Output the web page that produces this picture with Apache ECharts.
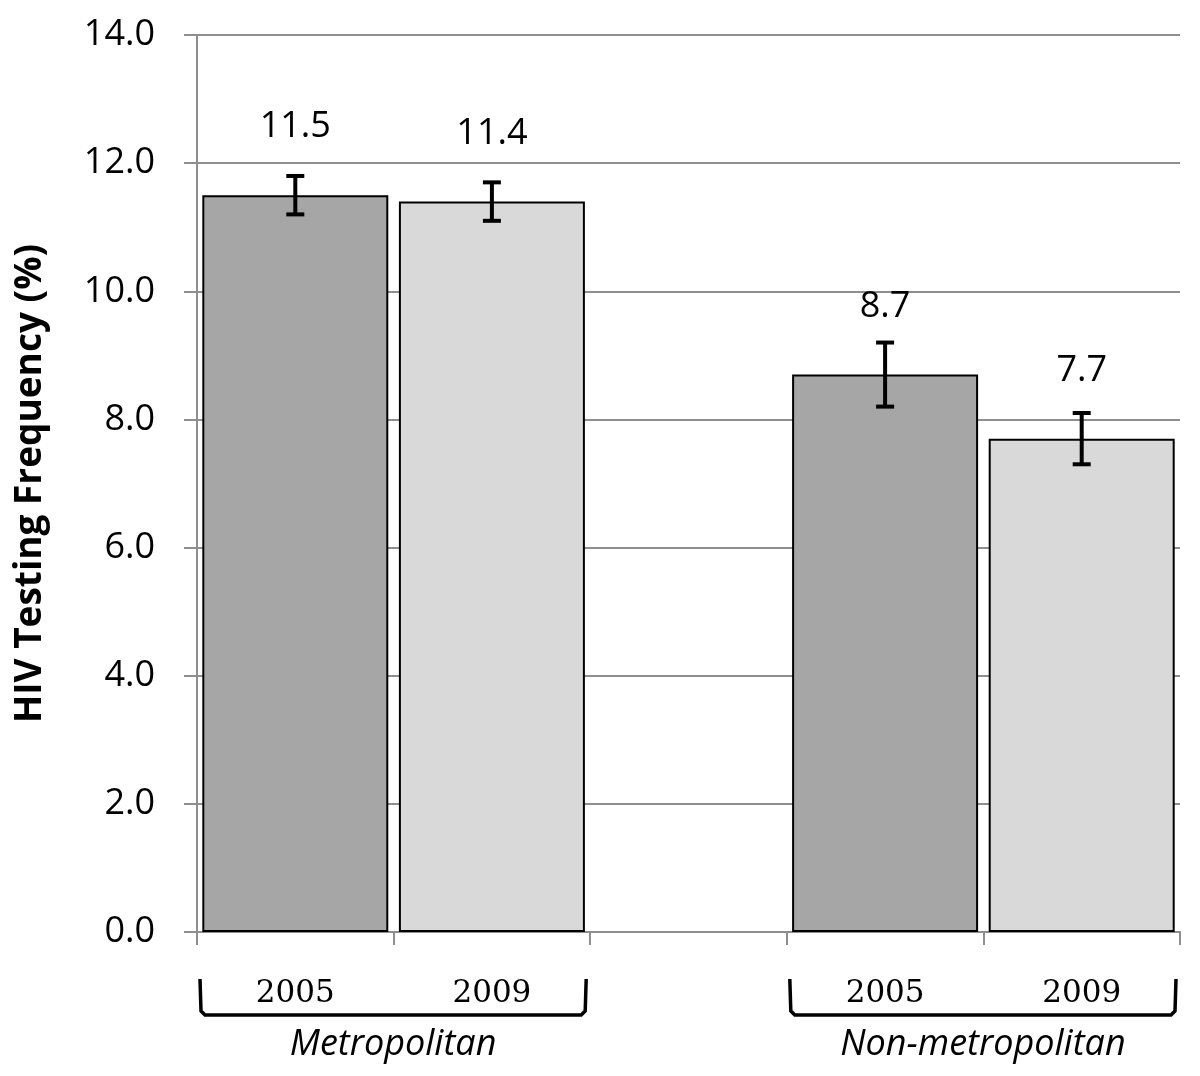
<!DOCTYPE html>
<html>
<head>
<meta charset="utf-8">
<script src="https://cdn.jsdelivr.net/npm/echarts@6/dist/echarts.min.js"></script>
<style>
  html, body { margin: 0; padding: 0; background: #fff; }
  #main { width: 1200px; height: 1076px; }
</style>
</head>
<body>
<div id="main"></div>
<script>
// 数据
var categories = ['2005', '2009', '', '2005', '2009'];
var values = [11.5, 11.4, null, 8.7, 7.7];
var errors = [0.3, 0.3, null, 0.5, 0.4];
var groupNames = ['Metropolitan', 'Non-metropolitan'];
var groupFrom = [0, 3];
var groupTo = [1, 4];
var yTicks = { min: 0, max: 14, interval: 2 };

var darkGray = '#a6a6a6';
var lightGray = '#d9d9d9';
var lineGray = '#8e8e8e';

// 误差线数据 [x, low, high]
var errData = [];
values.forEach(function (v, i) {
    if (v != null) errData.push([i, v - errors[i], v + errors[i]]);
});

var myChart = echarts.init(document.getElementById('main'));

var option = {
    backgroundColor: '#fff',
    animation: false,
    grid: { left: 197, right: 20, top: 35, bottom: 144 },
    xAxis: {
        type: 'category',
        data: categories,
        axisLine: { lineStyle: { color: lineGray, width: 2 } },
        axisTick: { show: true, length: 13, lineStyle: { color: lineGray, width: 2 } },
        axisLabel: {
            margin: 46,
            fontFamily: 'DejaVu Serif',
            fontSize: 31,
            color: '#000'
        }
    },
    yAxis: {
        type: 'value',
        min: yTicks.min,
        max: yTicks.max,
        interval: yTicks.interval,
        name: 'HIV Testing Frequency (%)',
        nameLocation: 'middle',
        nameGap: 148,
        nameTextStyle: { fontFamily: 'Open Sans', fontWeight: 'bold', fontSize: 37, color: '#000' },
        axisLine: { show: true, lineStyle: { color: lineGray, width: 2 } },
        axisTick: { show: true, length: 13, lineStyle: { color: lineGray, width: 2 } },
        splitLine: { lineStyle: { color: lineGray, width: 2 } },
        axisLabel: {
            margin: 42,
            fontFamily: 'Open Sans',
            fontSize: 36,
            color: '#000',
            formatter: function (v) { return v.toFixed(1); }
        }
    },
    series: [
        {
            type: 'bar',
            data: values,
            barCategoryGap: '5.4%',
            itemStyle: {
                color: function (p) { return p.name === '2005' ? darkGray : lightGray; },
                borderColor: '#000',
                borderWidth: 2
            },
            label: {
                show: true,
                position: 'top',
                distance: 50,
                fontFamily: 'Open Sans',
                fontSize: 36,
                color: '#000',
                formatter: function (p) { return p.value.toFixed(1); }
            }
        },
        {
            type: 'custom',
            data: errData,
            z: 10,
            renderItem: function (params, api) {
                var x = api.value(0);
                var lo = api.coord([x, api.value(1)]);
                var hi = api.coord([x, api.value(2)]);
                var hw = 9;
                var style = { stroke: '#000', lineWidth: 4 };
                return {
                    type: 'group',
                    children: [
                        { type: 'line', shape: { x1: lo[0], y1: lo[1], x2: hi[0], y2: hi[1] }, style: style },
                        { type: 'line', shape: { x1: hi[0] - hw, y1: hi[1], x2: hi[0] + hw, y2: hi[1] }, style: style },
                        { type: 'line', shape: { x1: lo[0] - hw, y1: lo[1], x2: lo[0] + hw, y2: lo[1] }, style: style }
                    ]
                };
            }
        }
    ]
};

myChart.setOption(option);

// 分组括号和分组名称
var p0 = myChart.convertToPixel({ xAxisIndex: 0 }, 0);
var p1 = myChart.convertToPixel({ xAxisIndex: 0 }, 1);
var slot = p1 - p0;
var graphics = [];
groupNames.forEach(function (name, g) {
    var l = myChart.convertToPixel({ xAxisIndex: 0 }, groupFrom[g]) - slot / 2 + 3;
    var r = myChart.convertToPixel({ xAxisIndex: 0 }, groupTo[g]) + slot / 2 - 4;
    graphics.push({
        type: 'polyline',
        shape: { points: [[l, 979], [l + 1, 1011], [l + 5, 1015], [r - 5, 1015], [r - 1, 1011], [r, 979]] },
        style: { stroke: '#000', lineWidth: 3.5, fill: null, lineJoin: 'round' }
    });
    graphics.push({
        type: 'text',
        x: (l + r) / 2,
        y: 1045,
        style: {
            text: name,
            font: 'italic 36px "Open Sans"',
            fill: '#000',
            align: 'center',
            verticalAlign: 'middle'
        }
    });
});
myChart.setOption({ graphic: graphics });

window.onresize = myChart.resize;
</script>
</body>
</html>
